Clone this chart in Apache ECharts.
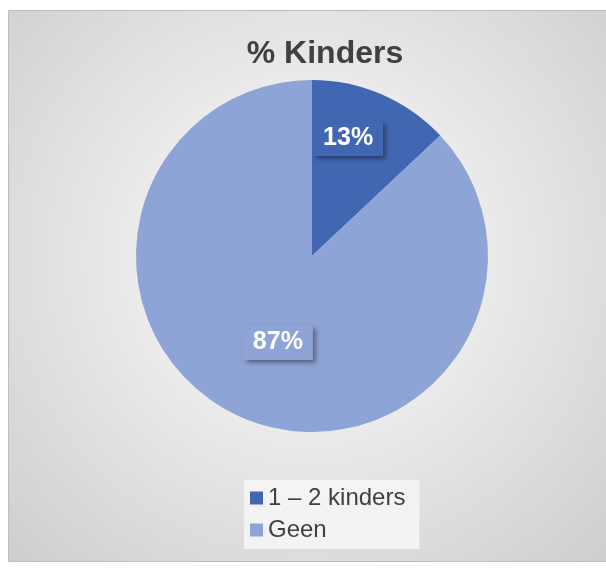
<!DOCTYPE html>
<html>
<head>
<meta charset="utf-8">
<script src="https://cdn.jsdelivr.net/npm/echarts@6/dist/echarts.min.js"></script>
<style>
html,body{margin:0;padding:0;background:#fff;}
#c{width:606px;height:569px;position:relative;}
</style>
</head>
<body>
<div id="c"></div>
<script>
const titleText = '% Kinders';
const categories = ['1 – 2 kinders', 'Geen'];
const values = [13, 87];
const colors = ['#4267b2', '#8fa4d6'];
const labelOffsets = [[0, -34], [2, 3]];

const chart = echarts.init(document.getElementById('c'), null, {renderer: 'canvas'});
const option = {
  animation: false,
  graphic: [{
    type: 'rect', z: -10,
    shape: {x: 8.5, y: 10.5, width: 600, height: 551},
    style: {
      stroke: '#bdbdbd', lineWidth: 1,
      fill: new echarts.graphic.RadialGradient(0.5, 0.45, 0.75, [
        {offset: 0, color: '#ffffff'},
        {offset: 1, color: '#cfcfcf'}
      ])
    }
  }],
  title: {
    text: titleText, left: 320, top: 33, textAlign: 'center',
    textStyle: {fontFamily: 'Liberation Sans, Arial', fontSize: 32, fontWeight: 'bold', color: '#404040'}
  },
  legend: {
    orient: 'vertical', left: 244, top: 480,
    padding: [6, 14, 7, 6],
    backgroundColor: 'rgba(245,245,245,0.9)',
    itemWidth: 13, itemHeight: 13, itemGap: 8,
    icon: 'rect',
    textStyle: {fontFamily: 'Liberation Sans, Arial', fontSize: 24, color: '#404040'},
    data: categories
  },
  series: [{
    type: 'pie', center: [312, 256], radius: 176,
    startAngle: 90, clockwise: true,
    labelLine: {show: false},
    emphasis: {disabled: true},
    data: categories.map((c, i) => ({
      name: c, value: values[i],
      itemStyle: {color: colors[i]},
      label: {
        show: true, position: 'inside', offset: labelOffsets[i],
        formatter: '{d}%',
        fontFamily: 'Liberation Sans, Arial', fontSize: 25, fontWeight: 'bold', color: '#ffffff',
        backgroundColor: colors[i], padding: [6, 10, 4, 10],
        shadowColor: 'rgba(0,0,0,0.45)', shadowBlur: 5, shadowOffsetX: 3, shadowOffsetY: 3
      }
    }))
  }]
};
chart.setOption(option);
</script>
</body>
</html>
